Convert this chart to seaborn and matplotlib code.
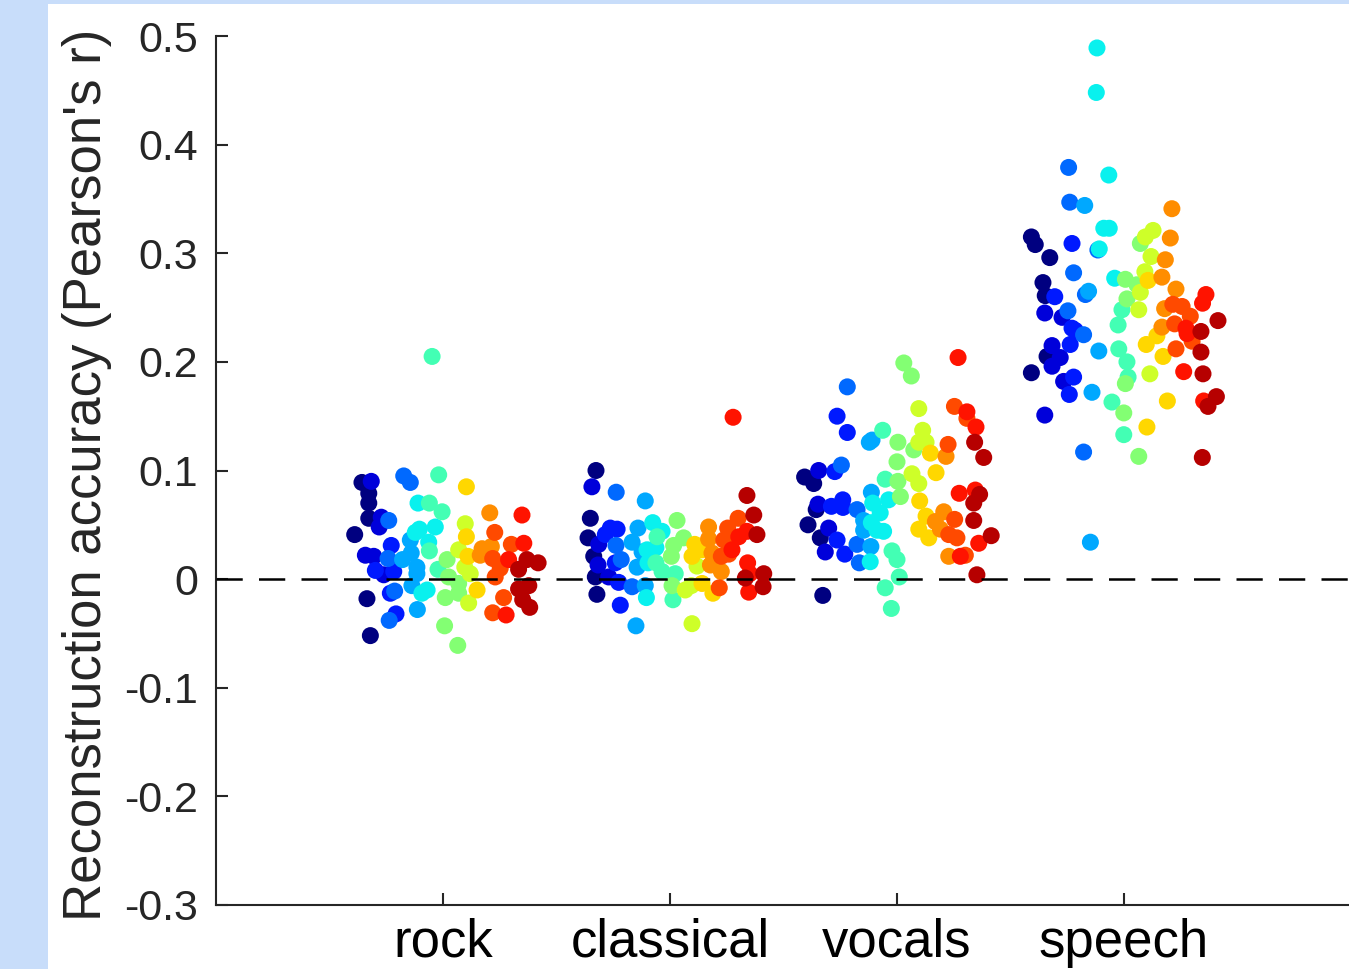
import numpy as np
import pandas as pd
import matplotlib
matplotlib.use("Agg")
import matplotlib.pyplot as plt
import seaborn as sns
from matplotlib.patches import Rectangle

# ---- data -------------------------------------------------------------
categories = ["rock", "classical", "vocals", "speech"]

y_ticks = [-0.3, -0.2, -0.1, 0.0, 0.1, 0.2, 0.3, 0.4, 0.5]
y_tick_labels = ["-0.3", "-0.2", "-0.1", "0", "0.1", "0.2", "0.3", "0.4", "0.5"]

# number of electrodes per subject (subjects 0..13) in each condition
rock_counts = [7, 6, 5, 6, 7, 7, 6, 7, 5, 4, 4, 7, 4, 7]
classical_counts = [6, 4, 6, 4, 7, 6, 5, 5, 4, 5, 5, 6, 7, 6]
vocals_counts = [6, 4, 8, 5, 6, 7, 7, 7, 6, 6, 5, 7, 7, 7]
speech_counts = [7, 7, 7, 8, 5, 7, 7, 7, 7, 6, 7, 6, 6, 7]

rock_r = [0.089, 0.079, 0.070, 0.056, 0.041, -0.018, -0.052,
          0.090, 0.057, 0.048, 0.022, 0.021, 0.004,
          0.031, 0.008, 0.007, -0.013, -0.032,
          0.054, 0.019, -0.011, -0.038, 0.095, 0.089,
          0.018, 0.036, 0.024, 0.011, 0.005, -0.006, -0.028,
          0.070, 0.046, 0.043, 0.048, 0.034, -0.013, -0.010,
          0.205, 0.096, 0.070, 0.062, 0.026, 0.009,
          0.018, 0.002, -0.004, -0.013, -0.017, -0.043, -0.061,
          0.051, 0.027, 0.011, 0.005, -0.022,
          0.085, 0.039, 0.021, -0.010,
          0.061, 0.028, 0.030, 0.022,
          0.043, 0.019, 0.010, 0.002, -0.017, -0.031, 0.032,
          0.059, 0.033, 0.018, -0.033,
          0.018, 0.015, 0.009, -0.006, -0.009, -0.019, -0.026]

classical_r = [0.100, 0.056, 0.038, 0.021, 0.002, -0.014,
               0.085, 0.032, 0.013, 0.002,
               0.047, 0.046, 0.041, 0.015, -0.003, -0.024,
               0.080, 0.031, 0.018, -0.007,
               0.072, 0.047, 0.034, 0.011, -0.006, -0.043, 0.025,
               0.052, 0.044, 0.027, 0.029, 0.015, -0.017,
               0.039, 0.015, 0.007, 0.005, -0.019,
               0.054, 0.038, 0.031, 0.021, -0.006,
               -0.010, -0.006, 0.012, -0.041,
               0.032, 0.021, 0.027, -0.004, -0.013,
               0.048, 0.037, 0.024, 0.013, 0.007,
               0.047, 0.056, 0.036, 0.021, 0.023, -0.008,
               0.149, 0.039, 0.027, 0.044, 0.015, -0.012, 0.005,
               0.077, 0.059, 0.041, 0.001, 0.005, -0.007]

vocals_r = [0.094, 0.088, 0.050, 0.064, 0.038, -0.015,
            0.100, 0.069, 0.025, 0.047,
            0.099, 0.150, 0.135, 0.067, 0.073, 0.066, 0.036, 0.023,
            0.177, 0.105, 0.064, 0.032, 0.015,
            0.126, 0.128, 0.080, 0.054, 0.045, 0.030,
            0.070, 0.061, 0.073, 0.052, 0.045, 0.044, 0.016,
            0.137, 0.092, 0.026, 0.018, 0.002, -0.008, -0.027,
            0.199, 0.187, 0.126, 0.119, 0.108, 0.090, 0.076,
            0.157, 0.137, 0.126, 0.126, 0.097, 0.088,
            0.116, 0.098, 0.072, 0.058, 0.046, 0.038,
            0.113, 0.062, 0.053, 0.046, 0.021,
            0.124, 0.159, 0.148, 0.055, 0.041, 0.038, 0.022,
            0.204, 0.154, 0.140, 0.079, 0.082, 0.033, 0.021,
            0.126, 0.112, 0.078, 0.070, 0.054, 0.040, 0.004]

speech_r = [0.315, 0.308, 0.296, 0.273, 0.261, 0.205, 0.190,
            0.245, 0.241, 0.215, 0.204, 0.196, 0.182, 0.151,
            0.309, 0.260, 0.231, 0.229, 0.216, 0.186, 0.170,
            0.379, 0.347, 0.282, 0.247, 0.225, 0.303, 0.117, 0.262,
            0.344, 0.265, 0.210, 0.172, 0.034,
            0.489, 0.448, 0.372, 0.323, 0.323, 0.304, 0.277,
            0.248, 0.234, 0.212, 0.200, 0.186, 0.163, 0.133,
            0.309, 0.276, 0.271, 0.258, 0.180, 0.153, 0.113,
            0.321, 0.315, 0.297, 0.283, 0.264, 0.248, 0.189,
            0.275, 0.224, 0.216, 0.205, 0.164, 0.140,
            0.341, 0.314, 0.294, 0.278, 0.267, 0.249, 0.232,
            0.253, 0.251, 0.242, 0.235, 0.219, 0.212,
            0.262, 0.254, 0.231, 0.226, 0.191, 0.164,
            0.238, 0.228, 0.209, 0.189, 0.168, 0.159, 0.112]

# horizontal spread of each point around its category centre
rock_offset = [-0.357, -0.327, -0.327, -0.327, -0.389, -0.335, -0.320,
               -0.316, -0.272, -0.281, -0.342, -0.305, -0.261,
               -0.228, -0.298, -0.217, -0.232, -0.207,
               -0.239, -0.242, -0.213, -0.237, -0.173, -0.144,
               -0.178, -0.144, -0.140, -0.115, -0.115, -0.137, -0.113,
               -0.110, -0.104, -0.122, -0.034, -0.063, -0.093, -0.070,
               -0.048, -0.019, -0.060, -0.004, -0.060, -0.022,
               0.018, 0.025, 0.069, 0.069, 0.010, 0.007, 0.065,
               0.098, 0.069, 0.096, 0.120, 0.113,
               0.103, 0.103, 0.110, 0.150,
               0.206, 0.172, 0.213, 0.164,
               0.228, 0.219, 0.252, 0.230, 0.267, 0.219, 0.301,
               0.348, 0.356, 0.289, 0.278,
               0.370, 0.419, 0.333, 0.378, 0.333, 0.351, 0.382]

classical_offset = [-0.326, -0.351, -0.361, -0.336, -0.329, -0.322,
                    -0.344, -0.314, -0.317, -0.270,
                    -0.263, -0.233, -0.285, -0.241, -0.226, -0.219,
                    -0.237, -0.238, -0.215, -0.167,
                    -0.109, -0.141, -0.167, -0.145, -0.109, -0.150, -0.123,
                    -0.076, -0.035, -0.101, -0.062, -0.097, -0.104,
                    -0.057, -0.062, -0.035, 0.023, 0.013,
                    0.031, 0.060, 0.016, 0.006, 0.009,
                    0.067, 0.094, 0.119, 0.097,
                    0.109, 0.097, 0.141, 0.141, 0.189,
                    0.170, 0.170, 0.185, 0.178, 0.226,
                    0.254, 0.300, 0.237, 0.226, 0.259, 0.217,
                    0.278, 0.303, 0.273, 0.339, 0.342, 0.347, 0.351,
                    0.339, 0.369, 0.383, 0.332, 0.413, 0.410]

vocals_offset = [-0.407, -0.367, -0.392, -0.356, -0.338, -0.327,
                 -0.345, -0.348, -0.316, -0.301,
                 -0.274, -0.264, -0.219, -0.289, -0.239, -0.238, -0.264, -0.230,
                 -0.219, -0.245, -0.176, -0.176, -0.166,
                 -0.122, -0.110, -0.113, -0.147, -0.147, -0.115,
                 -0.107, -0.074, -0.037, -0.113, -0.088, -0.059, -0.118,
                 -0.063, -0.052, -0.022, 0.000, 0.010, -0.052, -0.025,
                 0.030, 0.063, 0.004, 0.074, 0.000, 0.004, 0.015,
                 0.096, 0.113, 0.096, 0.128, 0.066, 0.096,
                 0.147, 0.172, 0.100, 0.128, 0.096, 0.140,
                 0.216, 0.206, 0.169, 0.191, 0.228,
                 0.225, 0.253, 0.308, 0.254, 0.228, 0.264, 0.301,
                 0.269, 0.308, 0.348, 0.274, 0.345, 0.360, 0.279,
                 0.342, 0.382, 0.364, 0.338, 0.338, 0.415, 0.352]

speech_offset = [-0.408, -0.391, -0.327, -0.357, -0.347, -0.339, -0.408,
                 -0.349, -0.273, -0.317, -0.281, -0.317, -0.266, -0.349,
                 -0.229, -0.305, -0.229, -0.215, -0.237, -0.222, -0.241,
                 -0.244, -0.239, -0.222, -0.247, -0.178, -0.115, -0.178, -0.170,
                 -0.173, -0.156, -0.111, -0.141, -0.148,
                 -0.119, -0.122, -0.067, -0.089, -0.065, -0.109, -0.041,
                 -0.009, -0.026, -0.023, 0.013, 0.018, -0.053, -0.001,
                 0.072, 0.006, 0.057, 0.013, 0.006, -0.001, 0.065,
                 0.128, 0.094, 0.119, 0.092, 0.072, 0.065, 0.114,
                 0.106, 0.145, 0.098, 0.172, 0.191, 0.101,
                 0.211, 0.204, 0.182, 0.167, 0.229, 0.179, 0.167,
                 0.215, 0.256, 0.292, 0.223, 0.300, 0.229,
                 0.361, 0.346, 0.273, 0.278, 0.263, 0.351,
                 0.414, 0.339, 0.339, 0.348, 0.407, 0.370, 0.345]

# ---- long-format table ------------------------------------------------
groups = [
    (rock_counts, rock_r, rock_offset),
    (classical_counts, classical_r, classical_offset),
    (vocals_counts, vocals_r, vocals_offset),
    (speech_counts, speech_r, speech_offset),
]
frames = []
for pos, (name, (counts, r, off)) in enumerate(zip(categories, groups), start=1):
    subj = np.repeat(np.arange(len(counts)), counts)
    assert len(subj) == len(r) == len(off), name
    frames.append(pd.DataFrame({
        "category": name,
        "subject": subj,
        "r": r,
        "x": pos + np.asarray(off),
    }))
df = pd.concat(frames, ignore_index=True).sort_values("subject", kind="stable")

# one jet colour per subject
jet_pos = [0.0, 0.08, 0.15, 0.23, 0.29, 0.36, 0.43, 0.51, 0.60, 0.68, 0.76, 0.83, 0.89, 0.95]
jet = matplotlib.colormaps["jet"]
palette = {i: jet(t) for i, t in enumerate(jet_pos)}

# ---- figure -----------------------------------------------------------
sns.set_theme(style="ticks")
plt.rcParams["font.family"] = ["Liberation Sans", "DejaVu Sans"]

W, H = 1349, 969
fig = plt.figure(figsize=(W / 100, H / 100), dpi=100, facecolor="#c8ddfa")
fig.patches.append(Rectangle((48 / W, 0), 1 - 48 / W, 965 / H,
                             transform=fig.transFigure, facecolor="white",
                             edgecolor="none", zorder=-10))

ax = fig.add_axes([216 / W, 64 / H, 1135 / W, 869 / H])
ax.set_zorder(1)
ax.set_facecolor("white")

sns.scatterplot(data=df, x="x", y="r", hue="subject", palette=palette,
                s=150, linewidth=0, alpha=1, legend=False, ax=ax, zorder=3)

ax.axhline(0, color="black", lw=1.8, dashes=(10.5, 6.5), zorder=4)

ax.set_xlim(0, 5)
ax.set_ylim(-0.3, 0.5)
ax.set_xticks(range(1, len(categories) + 1))
ax.set_xticklabels(categories)
ax.set_yticks(y_ticks)
ax.set_yticklabels(y_tick_labels)
ax.set_xlabel("")
ax.set_ylabel("")

spine_col = "#262626"
for side in ("top", "right"):
    ax.spines[side].set_visible(False)
for side in ("left", "bottom"):
    ax.spines[side].set_color(spine_col)
    ax.spines[side].set_linewidth(1.5)

ax.tick_params(axis="both", direction="in", length=8.5, width=1.5, color=spine_col)
ax.tick_params(axis="y", labelsize=31, pad=13, labelcolor=spine_col)
ax.tick_params(axis="x", labelsize=38, pad=9, labelcolor="black")

fig.text(87 / W, 1 - 475 / H, "Reconstruction accuracy (Pearson's r)",
         rotation=90, ha="center", va="center", fontsize=38, color=spine_col)

fig.savefig("out.png", dpi=100, facecolor=fig.get_facecolor())
